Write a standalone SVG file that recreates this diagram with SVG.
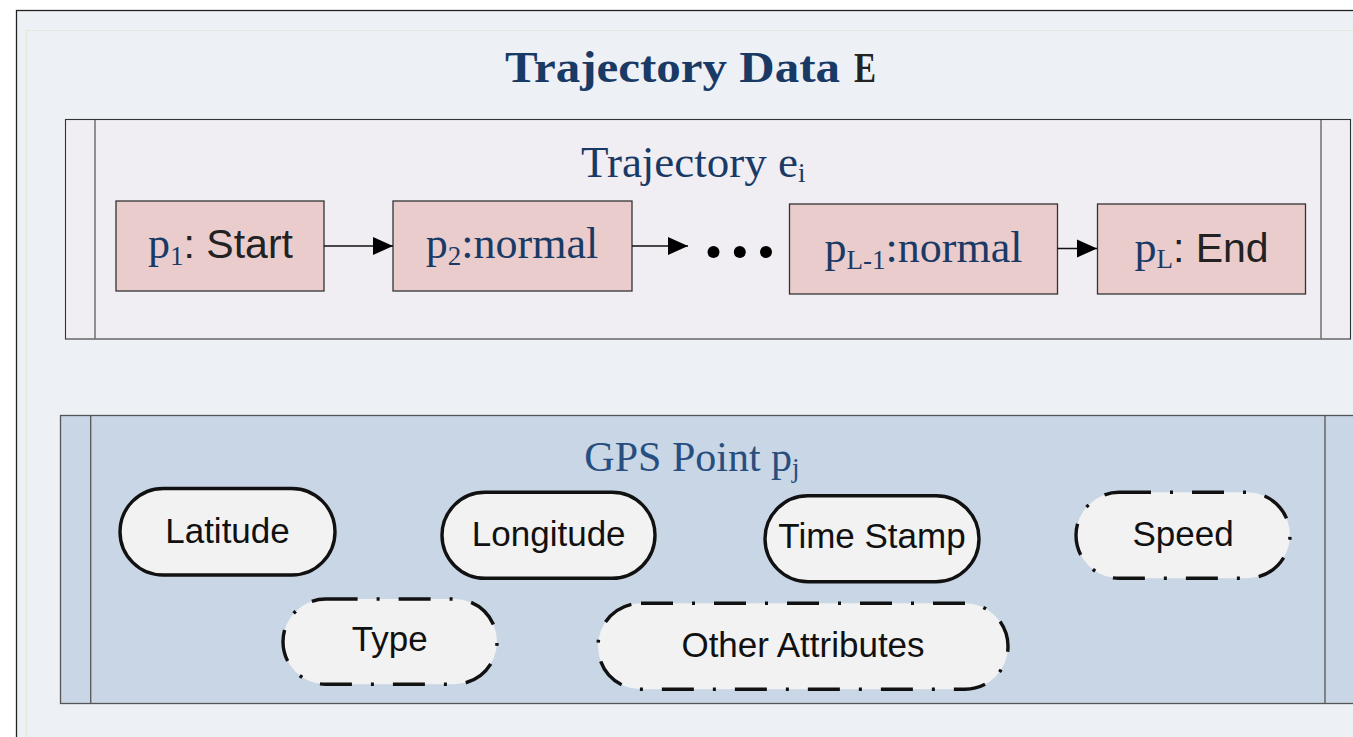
<svg xmlns="http://www.w3.org/2000/svg" width="1353" height="737" viewBox="0 0 1353 737">
  <defs>
    <marker id="arrow" viewBox="0 0 20 20" refX="20" refY="10" markerWidth="20" markerHeight="20" markerUnits="userSpaceOnUse" orient="auto">
      <path d="M0,1 L20,10 L0,19 Z" fill="#000"/>
    </marker>
    <style>
      .serif { font-family: "Liberation Serif", "DejaVu Serif", serif; fill: #1a3a66; }
      .sans { font-family: "Liberation Sans", Arial, sans-serif; fill: #222; }
      .point { fill: #ebcccc; stroke: #333; stroke-width: 1.3; }
      .lbl { font-size: 44px; text-anchor: middle; }
      .sub { font-size: 27px; }
      .attr { fill: #f2f2f2; stroke: #111; stroke-width: 3.4; }
      .opt { stroke-dasharray: 32 19 3 19; }
      .attr-text { font-family: "Liberation Sans", Arial, sans-serif; font-size: 35px; fill: #111; text-anchor: middle; }
      .conn { stroke: #111; stroke-width: 1.3; fill: none; }
    </style>
  </defs>

  <rect x="0" y="0" width="1353" height="737" fill="#ffffff"/>

  <!-- outer container -->
  <g id="trajectory-data">
    <rect x="16.5" y="10.5" width="1360" height="750" fill="#edf0f5" stroke="#222" stroke-width="1.3"/>
    <path d="M26.5,760 V30.5 H1360" fill="none" stroke="#e2eadb" stroke-width="1.2"/>
    <text x="505" y="82" class="serif" font-size="44" font-weight="bold" textLength="335" lengthAdjust="spacingAndGlyphs">Trajectory Data</text>
    <text x="854" y="82" font-family="'Liberation Serif', serif" font-size="42" font-weight="bold" fill="#222" textLength="22" lengthAdjust="spacingAndGlyphs">E</text>
  </g>

  <!-- trajectory container -->
  <g id="trajectory">
    <rect x="65.5" y="119.5" width="1285" height="219.5" fill="#f0eef3" stroke="#333" stroke-width="1.1"/>
    <line x1="95" y1="120" x2="95" y2="339" stroke="#777" stroke-width="1.6"/>
    <line x1="1321" y1="120" x2="1321" y2="339" stroke="#777" stroke-width="1.6"/>
    <text x="581" y="177" class="serif" font-size="45">Trajectory e<tspan class="sub" dy="5">i</tspan></text>
  </g>

  <g id="p1">
    <rect class="point" x="116" y="201" width="208" height="90"/>
    <text x="220.5" y="258" class="lbl"><tspan class="serif">p</tspan><tspan class="serif sub" dy="7">1</tspan><tspan class="sans" font-size="41" dy="-7">: Start</tspan></text>
  </g>
  <g id="p2">
    <rect class="point" x="393" y="201" width="239" height="90"/>
    <text x="512" y="258" class="lbl serif"><tspan>p</tspan><tspan class="sub" dy="7">2</tspan><tspan dy="-7">:normal</tspan></text>
  </g>
  <g id="ellipsis">
    <circle cx="713.5" cy="252" r="6" fill="#000"/>
    <circle cx="739.8" cy="252" r="6" fill="#000"/>
    <circle cx="766" cy="252" r="6" fill="#000"/>
  </g>
  <g id="pL-1">
    <rect class="point" x="789.5" y="204" width="268" height="90"/>
    <text x="923.5" y="262" class="lbl serif"><tspan>p</tspan><tspan class="sub" dy="7">L-1</tspan><tspan dy="-7">:normal</tspan></text>
  </g>
  <g id="pL">
    <rect class="point" x="1097.5" y="204" width="208" height="90"/>
    <text x="1201.5" y="262" class="lbl"><tspan class="serif">p</tspan><tspan class="serif sub" dy="6">L</tspan><tspan class="sans" font-size="41" dy="-6">: End</tspan></text>
  </g>

  <!-- connectors between trajectory points -->
  <g id="connectors">
    <line class="conn" x1="324" y1="246" x2="393" y2="246" marker-end="url(#arrow)"/>
    <line class="conn" x1="632" y1="246" x2="688" y2="246" marker-end="url(#arrow)"/>
    <line class="conn" x1="1057.5" y1="248.5" x2="1097" y2="248.5" marker-end="url(#arrow)"/>
  </g>

  <!-- GPS point container -->
  <g id="gps-point">
    <rect x="60.5" y="415.5" width="1320" height="288" fill="#c8d6e6" stroke="#555" stroke-width="1.3"/>
    <line x1="90.7" y1="416" x2="90.7" y2="703" stroke="#555" stroke-width="1.3"/>
    <line x1="1325" y1="416" x2="1325" y2="703" stroke="#555" stroke-width="1.3"/>
    <text x="692" y="471" class="serif" style="fill:#284e80" font-size="42" text-anchor="middle">GPS Point p<tspan class="sub" dy="6">j</tspan></text>
  </g>

  <g id="latitude">
    <rect class="attr" x="120" y="488.5" width="215" height="86.5" rx="43.25"/>
    <text class="attr-text" x="227.5" y="543.3">Latitude</text>
  </g>
  <g id="longitude">
    <rect class="attr" x="442" y="492.3" width="213" height="86" rx="43"/>
    <text class="attr-text" x="548.7" y="545.7">Longitude</text>
  </g>
  <g id="time-stamp">
    <rect class="attr" x="765" y="495.7" width="214" height="86" rx="43"/>
    <text class="attr-text" x="872" y="548.3">Time Stamp</text>
  </g>
  <g id="speed">
    <rect class="attr opt" x="1076" y="492.3" width="214" height="86" rx="43"/>
    <text class="attr-text" x="1183" y="545.7">Speed</text>
  </g>
  <g id="type">
    <rect class="attr opt" x="283" y="599" width="214" height="85.3" rx="42.6"/>
    <text class="attr-text" x="389.7" y="650.7">Type</text>
  </g>
  <g id="other-attributes">
    <rect class="attr opt" x="598" y="603.3" width="410" height="86" rx="43"/>
    <text class="attr-text" x="803" y="656.7">Other Attributes</text>
  </g>
</svg>
